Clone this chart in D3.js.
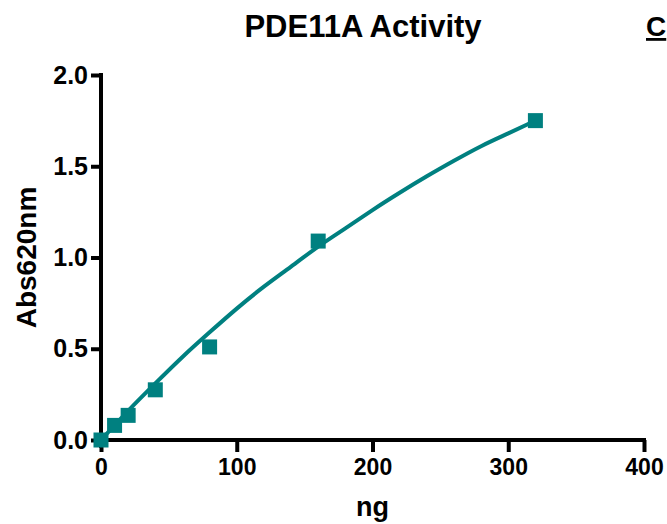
<!DOCTYPE html>
<html lang="en">
<head>
    <meta charset="utf-8">
    <title>PDE11A Activity</title>
    <script src="https://d3js.org/d3.v7.min.js"></script>
    <style type="text/css">
        body {
            margin: 0;
            padding: 0;
            background: #fff;
            font-family: 'Liberation Sans', Arial, Helvetica, sans-serif;
        }
        svg {
            display: block;
        }
        .axis path,
        .axis line {
            fill: none;
            stroke: #000;
            stroke-width: 4;
        }
        .axis text {
            font-family: 'Liberation Sans', Arial, sans-serif;
            font-weight: bold;
            font-size: 23px;
            fill: #000;
        }
        .y.axis text {
            font-size: 25px;
        }
    </style>
</head>

<body>
    <svg></svg>

    <script>
        // Messpunkte (ng vs. Abs620nm)
        var ngWerte = [0, 10, 20, 40, 80, 160, 320];
        var absWerte = [0.0, 0.08, 0.135, 0.275, 0.51, 1.09, 1.75];

        // Fitkurve
        var fitX = [0, 20, 40, 60, 80, 100, 120, 140, 160, 180, 200, 220, 240, 260, 280, 300, 320];
        var fitY = [0, 0.16, 0.31, 0.455, 0.59, 0.72, 0.84, 0.95, 1.06, 1.16, 1.26, 1.355, 1.445, 1.53, 1.61, 1.68, 1.75];

        // Achsen-Ticks
        var xTicks = [0, 100, 200, 300, 400];
        var yTicks = [0.0, 0.5, 1.0, 1.5, 2.0];

        var farbe = "#008080";

        var breite = 667, hoehe = 524;

        var svg = d3.select("svg")
            .attr("width", breite)
            .attr("height", hoehe);

        // Skalen
        var x = d3.scaleLinear().domain([0, 400]).range([101, 644]);
        var y = d3.scaleLinear().domain([0, 2]).range([440, 75]);

        // Titel
        svg.append("text")
            .attr("x", 363)
            .attr("y", 37)
            .attr("text-anchor", "middle")
            .style("font-weight", "bold")
            .style("font-size", "31px")
            .text("PDE11A Activity");

        // Panel-Buchstabe rechts oben
        svg.append("text")
            .attr("x", 646)
            .attr("y", 36)
            .style("font-weight", "bold")
            .style("font-size", "28px")
            .style("text-decoration", "underline")
            .text("C");

        // Y-Achse
        var yAxis = d3.axisLeft(y)
            .tickValues(yTicks)
            .tickFormat(d3.format(".1f"))
            .tickSize(10)
            .tickSizeOuter(0)
            .tickPadding(3);

        var gy = svg.append("g")
            .attr("class", "y axis")
            .attr("transform", "translate(" + x(0) + ",0)")
            .call(yAxis);
        gy.select(".domain")
            .attr("d", "M0," + (y(2) - 2) + "V" + (y(0) + 8));

        // X-Achse
        var xAxis = d3.axisBottom(x)
            .tickValues(xTicks)
            .tickSize(12)
            .tickSizeOuter(0)
            .tickPadding(7);

        var gx = svg.append("g")
            .attr("class", "x axis")
            .attr("transform", "translate(0," + y(0) + ")")
            .call(xAxis);
        gx.select(".domain")
            .attr("d", "M" + (x(0) - 4) + ",0H" + (x(400) + 2));

        // Achsenbeschriftungen
        svg.append("text")
            .attr("transform", "translate(36," + ((y(0) + y(2)) / 2) + ") rotate(-90)")
            .attr("text-anchor", "middle")
            .style("font-weight", "bold")
            .style("font-size", "28px")
            .text("Abs620nm");

        svg.append("text")
            .attr("x", x(200))
            .attr("y", 516)
            .attr("text-anchor", "middle")
            .style("font-weight", "bold")
            .style("font-size", "27px")
            .text("ng");

        // Fitkurve
        var fit = fitX.map(function (d, i) {
            return { x: d, y: fitY[i] };
        });

        var linie = d3.line()
            .x(function (d) { return x(d.x); })
            .y(function (d) { return y(d.y); })
            .curve(d3.curveNatural);

        svg.append("path")
            .datum(fit)
            .attr("fill", "none")
            .attr("stroke", farbe)
            .attr("stroke-width", 4)
            .attr("d", linie);

        // Marker
        var punkte = ngWerte.map(function (d, i) {
            return { x: d, y: absWerte[i] };
        });

        var groesse = 15;
        svg.selectAll(".punkt")
            .data(punkte)
            .enter().append("rect")
            .attr("class", "punkt")
            .attr("x", function (d) { return x(d.x) - groesse / 2; })
            .attr("y", function (d) { return y(d.y) - groesse / 2; })
            .attr("width", groesse)
            .attr("height", groesse)
            .attr("fill", farbe);
    </script>
</body>
</html>
